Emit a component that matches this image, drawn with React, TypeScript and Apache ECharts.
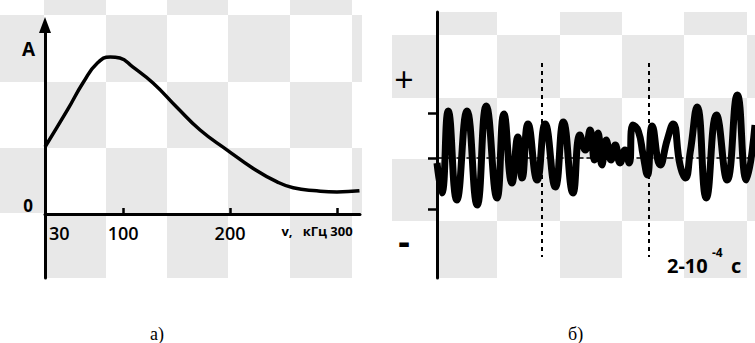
import React, { useEffect, useRef } from 'react';
import * as echarts from 'echarts';

// ---- Panel a): amplitude spectrum A(v), v in kHz ----
const spectrumFreq = [27, 48, 63, 76, 88, 97, 109, 128, 150, 172, 197, 221, 244, 259, 281, 300, 321];
const spectrumAmp = [35.4, 55, 69.8, 79.9, 83.1, 82.5, 77.8, 69.3, 56.6, 44.4, 33.9, 24.3, 16.9, 13.8, 12.2, 11.6, 12.2];
const freqTickValues = [100, 200, 300];
const freqLabelValues = [30, 100, 200, 300];

// ---- Panel б): oscillogram, time in µs ----
const waveTime = [0, 9, 21, 37, 56, 75, 92, 112, 125, 140, 151, 159, 170, 187, 202, 221, 236, 254, 267, 277, 286, 294, 301, 308, 316, 325, 333, 342, 351, 359, 366, 376, 385, 393, 402, 417, 430, 441, 454, 464, 473, 486, 503, 522, 542, 561, 578, 594];
const waveValue = [-2.5, -17.5, 23.5, -21, 23.5, -23.5, 26, -20, 22, -12.5, 10.5, -10, 17, -11, 17, -14.5, 18, -17.5, 11.5, 4, 14, -1, 12.5, -3.5, 9, -1, 6.5, -2.5, 4, -2.5, 16.5, 13.5, 1.5, -8.5, 16, -3.5, 9, 17, -3.5, -10, 3, 25.5, -20, 21.5, -11, 31.5, -11, 16.5];
const markerTimes = [196, 396];
const markerTop = 47.5;
const markerBottom = -49.5;
const signTickValues = [22.5, 0, -25.5];
const signLabelValues = [39.5, -41];
const panelLabels = ['а)', 'б)'];

// ---- decorative checkerboard background (layout only) ----
const LEFT_COLS = [0, 44, 106, 167, 228, 290, 352, 362];
const LEFT_ROWS = [0, 15, 82, 148, 213, 278];
const RIGHT_COLS = [392, 438, 497, 560, 622, 684, 747, 755];
const RIGHT_ROWS = [12, 35, 98, 159, 221, 278];
const GREY = '#e8e8e8';
const FONT = "'Open Sans', 'DejaVu Sans', sans-serif";

function checker(cols: number[], rows: number[]) {
  const out: any[] = [];
  for (let r = 0; r < rows.length - 1; r++) {
    for (let c = 0; c < cols.length - 1; c++) {
      if ((r + c) % 2 === 1) {
        out.push({
          type: 'rect',
          z: -10,
          silent: true,
          shape: { x: cols[c], y: rows[r], width: cols[c + 1] - cols[c], height: rows[r + 1] - rows[r] },
          style: { fill: GREY },
        });
      }
    }
  }
  return out;
}

export default function App() {
  const ref = useRef<HTMLDivElement>(null);
  useEffect(() => {
    const chart = echarts.init(ref.current!, null, { renderer: 'svg' });
    const bg = [...checker(LEFT_COLS, LEFT_ROWS), ...checker(RIGHT_COLS, RIGHT_ROWS)];
    const texts: any[] = [
      { type: 'text', z: 10, style: { text: '2-10', x: 667, y: 265, fill: '#000', fontSize: 20, fontWeight: 'bold', fontFamily: FONT, align: 'left', verticalAlign: 'middle' } },
      { type: 'text', z: 10, style: { text: '-4', x: 712, y: 252, fill: '#000', fontSize: 12, fontWeight: 'bold', fontFamily: FONT, align: 'left', verticalAlign: 'middle' } },
      { type: 'text', z: 10, style: { text: 'с', x: 731, y: 265, fill: '#000', fontSize: 20, fontWeight: 'bold', fontFamily: FONT, align: 'left', verticalAlign: 'middle' } },
      { type: 'text', z: 10, style: { text: panelLabels[0], x: 150, y: 334, fill: '#000', fontSize: 18, fontFamily: "'Liberation Serif', serif", align: 'left', verticalAlign: 'middle' } },
      { type: 'text', z: 10, style: { text: panelLabels[1], x: 568, y: 334, fill: '#000', fontSize: 18, fontFamily: "'Liberation Serif', serif", align: 'left', verticalAlign: 'middle' } },
    ];
    chart.setOption({
      animation: false,
      backgroundColor: '#fff',
      grid: [
        { left: 45, right: 395, top: 25, bottom: 65 },
        { left: 437, right: 0, top: 12, bottom: 65 },
      ],
      xAxis: [
        {
          gridIndex: 0,
          type: 'value',
          min: 27,
          max: 321.5,
          position: 'bottom',
          offset: -64,
          splitLine: { show: false },
          axisLine: { onZero: false, lineStyle: { color: '#000', width: 3 } },
          axisTick: { show: true, inside: true, length: 6, customValues: freqTickValues, lineStyle: { color: '#000', width: 2.5 } },
          axisLabel: {
            customValues: freqLabelValues,
            margin: 10,
            formatter: (v: number) =>
              v === 30 ? '{first|30}' : v === 300 ? '{unit|v,   кГц }{last|300}' : '{main|' + v + '}',
            rich: {
              main: { fontSize: 18, fontWeight: 600, fontFamily: FONT, color: '#000' },
              first: { fontSize: 18, fontWeight: 600, fontFamily: FONT, color: '#000', padding: [0, 0, 0, 22] },
              unit: { fontSize: 13, fontWeight: 'bold', fontFamily: FONT, color: '#000' },
              last: { fontSize: 13, fontWeight: 'bold', fontFamily: FONT, color: '#000', padding: [0, 40, 0, 0] },
            },
          },
        },
        {
          gridIndex: 1,
          type: 'value',
          min: 0,
          max: 594,
          splitLine: { show: false },
          axisLine: { onZero: true, lineStyle: { color: '#000', width: 1.5, type: [6, 4] } },
          axisTick: { show: false },
          axisLabel: { show: false },
        },
      ],
      yAxis: [
        {
          gridIndex: 0,
          type: 'value',
          min: -34,
          max: 100,
          splitLine: { show: false },
          axisLine: {
            show: true,
            onZero: false,
            lineStyle: { color: '#000', width: 3 },
            symbol: ['none', 'triangle'],
            symbolSize: [12, 16],
          },
          axisTick: { show: false },
          axisLabel: {
            customValues: [0],
            formatter: () => '0',
            margin: 12,
            color: '#000',
            fontSize: 17,
            fontWeight: 'bold',
            fontFamily: FONT,
            verticalAlign: 'bottom',
          },
          name: 'A',
          nameLocation: 'end',
          nameGap: -24,
          nameTextStyle: {
            color: '#000',
            fontSize: 19,
            fontWeight: 'bold',
            fontFamily: FONT,
            align: 'right',
            verticalAlign: 'middle',
            padding: [0, 10, 0, 0],
          },
        },
        {
          gridIndex: 1,
          type: 'value',
          min: -60,
          max: 73,
          splitLine: { show: false },
          axisLine: { show: true, onZero: false, lineStyle: { color: '#000', width: 3 } },
          axisTick: { show: true, customValues: signTickValues, length: 9, lineStyle: { color: '#000', width: 2.5 } },
          axisLabel: {
            customValues: signLabelValues,
            formatter: (v: number) => (v > 0 ? '{p|+}' : '{m|-}'),
            align: 'center',
            margin: 33,
            color: '#000',
            rich: {
              p: { fontSize: 34, fontFamily: FONT, color: '#000' },
              m: { fontSize: 36, fontWeight: 'bold', fontFamily: FONT, color: '#000' },
            },
          },
        },
      ],
      series: [
        {
          type: 'line',
          xAxisIndex: 0,
          yAxisIndex: 0,
          data: spectrumFreq.map((f, i) => [f, spectrumAmp[i]]),
          smooth: true,
          symbol: 'none',
          lineStyle: { color: '#000', width: 3.5 },
          silent: true,
        },
        {
          type: 'line',
          xAxisIndex: 1,
          yAxisIndex: 1,
          data: waveTime.map((t, i) => [t, waveValue[i]]),
          smooth: 0.5,
          symbol: 'none',
          lineStyle: { color: '#000', width: 7 },
          silent: true,
          markLine: {
            silent: true,
            symbol: ['none', 'none'],
            label: { show: false },
            lineStyle: { color: '#000', type: [4, 4], width: 2 },
            data: markerTimes.map((t) => [{ coord: [t, markerTop] }, { coord: [t, markerBottom] }]),
          },
        },
      ],
      graphic: [...bg, ...texts],
    });
    return () => chart.dispose();
  }, []);
  return <div ref={ref} style={{ position: 'absolute', left: 0, top: 0, width: 755, height: 343 }} />;
}
